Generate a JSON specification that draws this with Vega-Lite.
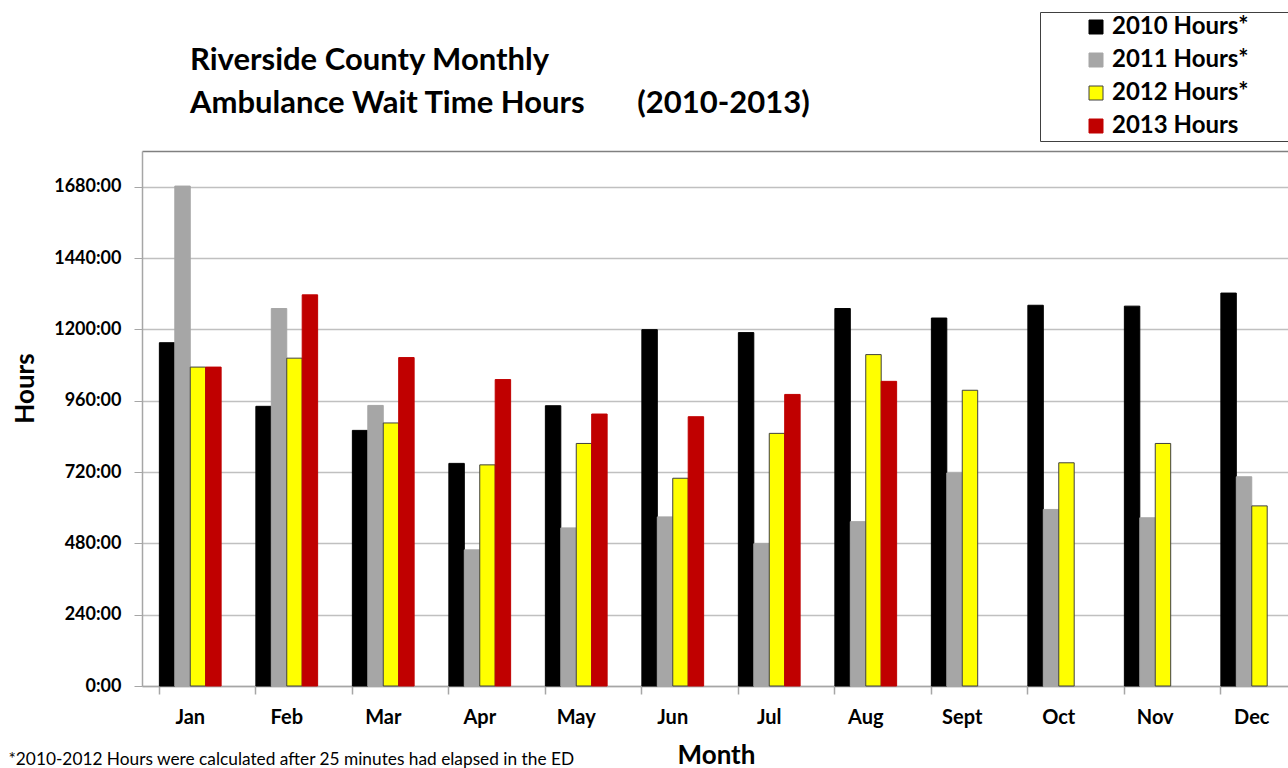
{
  "$schema": "https://vega.github.io/schema/vega-lite/v6.json",
  "width": 1146,
  "height": 535,
  "autosize": {"type": "none"},
  "padding": {"left": 142, "top": 151, "right": 0, "bottom": 82},
  "background": "white",
  "config": {"view": {"stroke": null}, "font": "Lato"},
  "title": {
    "text": ["Riverside County Monthly", "Ambulance Wait Time Hours\u00a0\u00a0\u00a0\u00a0\u00a0\u00a0\u00a0(2010-2013)"],
    "anchor": "start",
    "frame": "group",
    "dx": 48,
    "dy": 143,
    "fontSize": 31,
    "fontWeight": "bold",
    "font": "Lato",
    "color": "black",
    "lineHeight": 43,
    "offset": 35
  },
  "data": {
    "values": [
      {"month": "Jan", "series": "2010 Hours*", "hours": 1155},
      {"month": "Jan", "series": "2011 Hours*", "hours": 1682},
      {"month": "Jan", "series": "2012 Hours*", "hours": 1073},
      {"month": "Jan", "series": "2013 Hours", "hours": 1073},
      {"month": "Feb", "series": "2010 Hours*", "hours": 941},
      {"month": "Feb", "series": "2011 Hours*", "hours": 1270},
      {"month": "Feb", "series": "2012 Hours*", "hours": 1103},
      {"month": "Feb", "series": "2013 Hours", "hours": 1316},
      {"month": "Mar", "series": "2010 Hours*", "hours": 860},
      {"month": "Mar", "series": "2011 Hours*", "hours": 944},
      {"month": "Mar", "series": "2012 Hours*", "hours": 885},
      {"month": "Mar", "series": "2013 Hours", "hours": 1105},
      {"month": "Apr", "series": "2010 Hours*", "hours": 749},
      {"month": "Apr", "series": "2011 Hours*", "hours": 458},
      {"month": "Apr", "series": "2012 Hours*", "hours": 744},
      {"month": "Apr", "series": "2013 Hours", "hours": 1031},
      {"month": "May", "series": "2010 Hours*", "hours": 943},
      {"month": "May", "series": "2011 Hours*", "hours": 532},
      {"month": "May", "series": "2012 Hours*", "hours": 816},
      {"month": "May", "series": "2013 Hours", "hours": 915},
      {"month": "Jun", "series": "2010 Hours*", "hours": 1199},
      {"month": "Jun", "series": "2011 Hours*", "hours": 569},
      {"month": "Jun", "series": "2012 Hours*", "hours": 699},
      {"month": "Jun", "series": "2013 Hours", "hours": 906},
      {"month": "Jul", "series": "2010 Hours*", "hours": 1189},
      {"month": "Jul", "series": "2011 Hours*", "hours": 479},
      {"month": "Jul", "series": "2012 Hours*", "hours": 850},
      {"month": "Jul", "series": "2013 Hours", "hours": 981},
      {"month": "Aug", "series": "2010 Hours*", "hours": 1270},
      {"month": "Aug", "series": "2011 Hours*", "hours": 553},
      {"month": "Aug", "series": "2012 Hours*", "hours": 1115},
      {"month": "Aug", "series": "2013 Hours", "hours": 1025},
      {"month": "Sept", "series": "2010 Hours*", "hours": 1238},
      {"month": "Sept", "series": "2011 Hours*", "hours": 717},
      {"month": "Sept", "series": "2012 Hours*", "hours": 995},
      {"month": "Oct", "series": "2010 Hours*", "hours": 1281},
      {"month": "Oct", "series": "2011 Hours*", "hours": 594},
      {"month": "Oct", "series": "2012 Hours*", "hours": 751},
      {"month": "Nov", "series": "2010 Hours*", "hours": 1278},
      {"month": "Nov", "series": "2011 Hours*", "hours": 566},
      {"month": "Nov", "series": "2012 Hours*", "hours": 816},
      {"month": "Dec", "series": "2010 Hours*", "hours": 1322},
      {"month": "Dec", "series": "2011 Hours*", "hours": 704},
      {"month": "Dec", "series": "2012 Hours*", "hours": 606}
    ]
  },
  "layer": [
    {
      "mark": {"type": "bar", "strokeWidth": 1},
      "encoding": {
        "x": {
          "field": "month",
          "type": "nominal",
          "sort": ["Jan", "Feb", "Mar", "Apr", "May", "Jun", "Jul", "Aug", "Sept", "Oct", "Nov", "Dec"],
          "scale": {"range": [0, 1158], "paddingInner": 0.36, "paddingOuter": 0.18},
          "axis": {
            "title": "Month",
            "labelAngle": 0,
            "labelFontSize": 20,
            "labelFontWeight": "bold",
            "labelColor": "black",
            "labelFont": "Lato",
            "ticks": false,
            "labelPadding": 21,
            "domainColor": "#a6a6a6",
            "domainWidth": 1.5,
            "titleFont": "Lato",
            "titleFontSize": 26,
            "titleFontWeight": "bold",
            "titleColor": "black",
            "titleX": 574,
            "titleY": 56,
            "titleAlign": "center",
            "titleBaseline": "top"
          }
        },
        "xOffset": {
          "field": "series",
          "sort": ["2010 Hours*", "2011 Hours*", "2012 Hours*", "2013 Hours"],
          "scale": {"paddingInner": 0, "paddingOuter": 0}
        },
        "y": {
          "field": "hours",
          "type": "quantitative",
          "scale": {"domain": [0, 1800], "nice": false},
          "axis": {
            "values": [0, 240, 480, 720, 960, 1200, 1440, 1680, 1800],
            "labelExpr": "datum.value == 1800 ? '' : datum.value + ':00'",
            "title": "Hours",
            "titleFont": "Lato",
            "titleFontSize": 26,
            "titleFontWeight": "bold",
            "titleColor": "black",
            "titleX": -117,
            "titleY": 237,
            "titleAngle": 270,
            "titleAlign": "center",
            "titleBaseline": "middle",
            "labelFont": "Lato",
            "labelFontSize": 18,
            "labelFontWeight": "bold",
            "labelColor": "black",
            "labelPadding": 13,
            "tickSize": 8,
            "tickColor": {"condition": {"test": "datum.value == 1800", "value": "transparent"}, "value": "#a6a6a6"},
            "domainColor": "#a6a6a6",
            "domainWidth": 1.5,
            "grid": true,
            "gridColor": {"condition": {"test": "datum.value == 1800", "value": "#808080"}, "value": "#c0c0c0"},
            "gridWidth": 1.5
          }
        },
        "color": {
          "field": "series",
          "type": "nominal",
          "scale": {
            "domain": ["2010 Hours*", "2011 Hours*", "2012 Hours*", "2013 Hours"],
            "range": ["#000000", "#a6a6a6", "#ffff00", "#c00000"]
          },
          "legend": {
            "title": null,
            "orient": "none",
            "legendX": 898,
            "legendY": -139,
            "padding": 3,
            "rowPadding": 9,
            "symbolType": "square",
            "symbolSize": 196,
            "symbolOffset": 41,
            "labelOffset": 4,
            "labelLimit": 400,
            "labelFont": "Lato",
            "labelFontSize": 24,
            "labelFontWeight": "bold",
            "labelColor": "black",
            "strokeColor": "#404040",
            "fillColor": "white",
            "symbolStrokeWidth": 1,
            "labelExpr": "datum.label + '\u2800\u2800'"
          }
        },
        "stroke": {
          "field": "series",
          "type": "nominal",
          "scale": {
            "domain": ["2010 Hours*", "2011 Hours*", "2012 Hours*", "2013 Hours"],
            "range": ["#000000", "#a6a6a6", "#404040", "#c00000"]
          }
        }
      }
    },
    {
      "mark": {"type": "bar", "opacity": 0},
      "encoding": {
        "x": {
          "field": "month",
          "type": "nominal",
          "sort": ["Jan", "Feb", "Mar", "Apr", "May", "Jun", "Jul", "Aug", "Sept", "Oct", "Nov", "Dec"],
          "axis": {
            "orient": "bottom",
            "bandPosition": 0,
            "labels": false,
            "domain": false,
            "ticks": true,
            "tickSize": 8,
            "tickColor": "#a6a6a6",
            "tickWidth": 1.5,
            "grid": false,
            "title": "*2010-2012 Hours were calculated after 25 minutes had elapsed in the ED",
            "titleFont": "Lato",
            "titleFontSize": 17.3,
            "titleFontWeight": "normal",
            "titleColor": "black",
            "titleX": -134,
            "titleY": 78,
            "titleAlign": "left",
            "titleBaseline": "alphabetic"
          }
        }
      }
    }
  ],
  "resolve": {"axis": {"x": "independent"}}
}
